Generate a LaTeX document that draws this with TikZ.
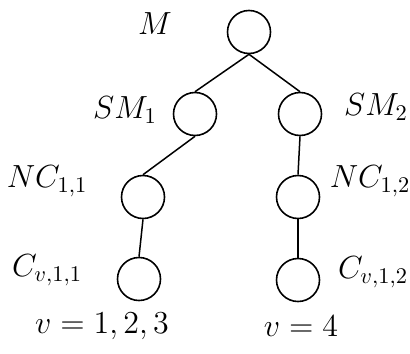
\RequirePackage{fix-cm}
\documentclass[tikz,border=0pt]{standalone}
\usetikzlibrary{positioning}

\begin{document}
\begin{tikzpicture}[
on grid,
unit/.style={draw,circle,minimum size=21.5pt,inner sep=0pt,line width=0.8pt},
lbl/.style={font=\fontsize{16}{19}\selectfont,inner sep=0pt},
vlbl/.style={font=\fontsize{16}{19}\selectfont,inner sep=0pt},
link/.style={line width=0.75pt}
]
\useasboundingbox (0,0) rectangle (205pt,-176.5pt);
\node[unit] (m) at (124.5pt,-16pt) {};
\node[unit,below left=41pt and 27pt of m] (sm1) {};
\node[unit,below right=41pt and 25.5pt of m] (sm2) {};
\node[unit,below left=41.5pt and 26pt of sm1] (nc11) {};
\node[unit,below left=41.5pt and 1pt of sm2] (nc12) {};
\node[unit,below left=41pt and 2pt of nc11] (c11) {};
\node[unit,below=41.5pt of nc12] (c12) {};

\node[lbl,above left=4pt and 47pt of m] (mlab) {$M$};
\node[lbl,above left=2pt and 35pt of sm1] (sm1lab) {$SM_1$};
\node[lbl,above right=3.5pt and 38pt of sm2] (sm2lab) {$SM_2$};
\node[lbl,above left=8pt and 48pt of nc11] (nc11lab) {$NC_{1,1}$};
\node[lbl,above right=8pt and 36pt of nc12] (nc12lab) {$NC_{1,2}$};
\node[lbl,above left=4.5pt and 46pt of c11] (c11lab) {$C_{v,1,1}$};
\node[lbl,above right=4pt and 37.5pt of c12] (c12lab) {$C_{v,1,2}$};
\node[vlbl,below left=23.5pt and 18.5pt of c11] (v1) {$v=1,2,3$};
\node[vlbl,below right=23pt and 1.5pt of c12] (v2) {$v=4$};

\draw[link] (m.south)--(sm1.north);
\draw[link] (m.south)--(sm2.north);
\draw[link] (sm1.south)--(nc11.north);
\draw[link] (sm2.south)--(nc12.north);
\draw[link] (nc11.south)--(c11.north);
\draw[link] (nc12.south)--(c12.north);
\end{tikzpicture}
\end{document}
